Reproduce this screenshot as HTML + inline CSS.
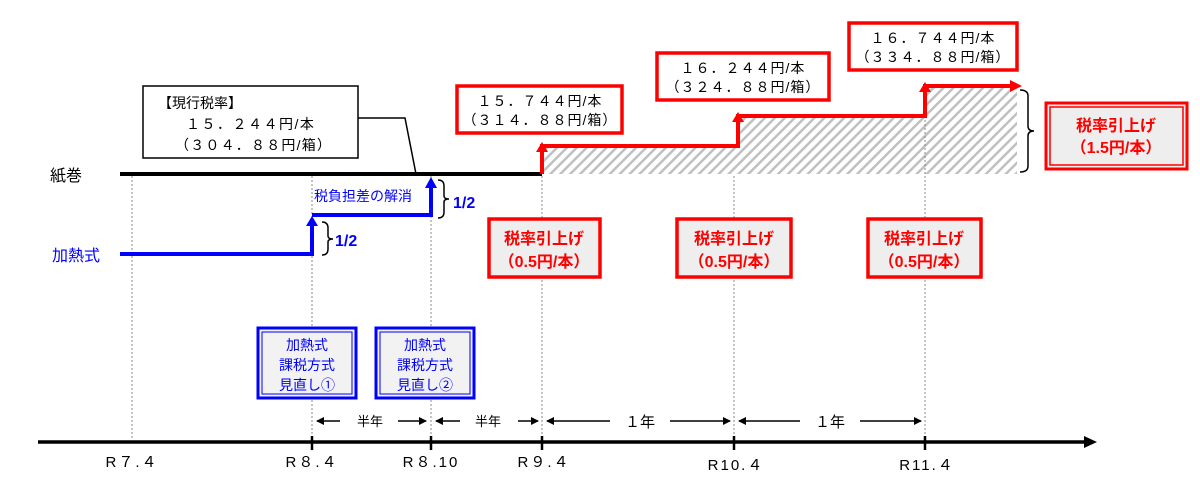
<!DOCTYPE html>
<html><head><meta charset="utf-8"><style>
html,body{margin:0;padding:0;background:#fff;}
svg{display:block;font-family:"Liberation Sans","Noto Sans CJK JP",sans-serif;}
</style></head><body>
<svg width="1200" height="483" viewBox="0 0 1200 483" xmlns="http://www.w3.org/2000/svg">
<defs>
<pattern id="h" width="7" height="7" patternUnits="userSpaceOnUse" patternTransform="rotate(45)">
<rect width="7" height="7" fill="#fff"/><rect width="2.5" height="7" fill="#c0c0c0"/></pattern>
<marker id="ab" markerWidth="8" markerHeight="8" refX="7" refY="4" orient="auto" markerUnits="userSpaceOnUse"><path d="M0,0 L8,4 L0,8z" fill="#000"/></marker>
</defs>
<path d="M542,146 H738 V116 H925 V86 H1017 V174 H542z" fill="url(#h)"/>
<g stroke="#888" stroke-width="1" stroke-dasharray="2,2">
<line x1="132" y1="176" x2="132" y2="440"/><line x1="312" y1="176" x2="312" y2="440"/>
<line x1="431" y1="176" x2="431" y2="440"/><line x1="542" y1="176" x2="542" y2="440"/>
<line x1="734" y1="176" x2="734" y2="440"/><line x1="925" y1="120" x2="925" y2="440"/>
</g>
<line x1="120" y1="174" x2="542" y2="174" stroke="#000" stroke-width="4"/>
<text x="50" y="181" font-size="16" fill="#000">紙巻</text>
<path d="M542,174 V146 H738 V116 H925 V86 H1012" fill="none" stroke="#f00" stroke-width="4"/>
<path d="M536,152 L542,142 L548,152z M732,122 L738,112 L744,122z M919,92 L925,82 L931,92z M1010,80 L1022,86 L1010,92z" fill="#f00"/>
<path d="M1020,90 Q1028,90 1028,96 V126 Q1028,131 1034,131 Q1028,131 1028,136 V166 Q1028,172 1020,172" fill="none" stroke="#000" stroke-width="1.5"/>
<text x="52" y="261" font-size="16" fill="#00f">加熱式</text>
<path d="M120,254 H312 V222 M312,215 H431 V184" fill="none" stroke="#00f" stroke-width="4"/>
<path d="M306,226 L312,216 L318,226z M425,188 L431,177 L437,188z" fill="#00f"/>
<path d="M322,222 Q328,222 328,228 V236 Q328,239 333,239 Q328,239 328,242 V249 Q328,255 322,255" fill="none" stroke="#000" stroke-width="1.5"/>
<text x="335" y="246" font-size="16" font-weight="bold" fill="#00f">1/2</text>
<path d="M438,180 Q444,180 444,186 V196 Q444,199 449,199 Q444,199 444,202 V212 Q444,218 438,218" fill="none" stroke="#000" stroke-width="1.5"/>
<text x="453" y="208" font-size="16" font-weight="bold" fill="#00f">1/2</text>
<text x="314" y="201" font-size="14" fill="#00f">税負担差の解消</text>
<rect x="143" y="86" width="215" height="72" fill="#fff" stroke="#000" stroke-width="1.5"/>
<polyline points="358,118 405,118 416,174" fill="none" stroke="#000" stroke-width="1.5"/>
<text x="158" y="108" font-size="14">【現行税率】</text>
<text x="186" y="129" font-size="14" letter-spacing="1.5">１５．２４４円/本</text>
<text x="175" y="150" font-size="14" letter-spacing="1.2">（３０４．８８円/箱）</text>
<g fill="#fff" stroke="#f00" stroke-width="3.5">
<rect x="457" y="86" width="165" height="47"/><rect x="657" y="53" width="172" height="47"/><rect x="849" y="23" width="168" height="47"/></g>
<g font-size="14" text-anchor="middle" letter-spacing="1">
<text x="540" y="106">１５．７４４円/本</text><text x="540" y="125">（３１４．８８円/箱）</text>
<text x="743" y="73">１６．２４４円/本</text><text x="743" y="92">（３２４．８８円/箱）</text>
<text x="933" y="43">１６．７４４円/本</text><text x="933" y="62">（３３４．８８円/箱）</text></g>
<g fill="#eeeeee" stroke="#f00" stroke-width="3.5">
<rect x="489" y="219" width="111" height="58"/><rect x="677" y="219" width="114" height="58"/><rect x="868" y="219" width="113" height="58"/></g>
<g font-size="16" font-weight="bold" fill="#f00" text-anchor="middle">
<text x="544" y="244">税率引上げ</text><text x="544" y="267">（0.5円/本）</text>
<text x="734" y="244">税率引上げ</text><text x="734" y="267">（0.5円/本）</text>
<text x="924" y="244">税率引上げ</text><text x="924" y="267">（0.5円/本）</text></g>
<rect x="1046" y="103" width="141" height="66" fill="#eee" stroke="#f00" stroke-width="3"/>
<rect x="1050" y="107" width="133" height="58" fill="none" stroke="#f00" stroke-width="1.5"/>
<text x="1116" y="131" font-size="16" font-weight="bold" fill="#f00" text-anchor="middle">税率引上げ</text>
<text x="1116" y="153" font-size="16" font-weight="bold" fill="#f00" text-anchor="middle">（1.5円/本）</text>
<g fill="#f2f2f2" stroke="#00f" stroke-width="3"><rect x="258" y="328" width="98" height="70"/><rect x="376" y="328" width="98" height="70"/></g>
<g fill="none" stroke="#00f" stroke-width="1"><rect x="262" y="332" width="90" height="62"/><rect x="380" y="332" width="90" height="62"/></g>
<g font-size="14" fill="#00f" text-anchor="middle">
<text x="307" y="350">加熱式</text><text x="307" y="370">課税方式</text><text x="307" y="390">見直し①</text>
<text x="425" y="350">加熱式</text><text x="425" y="370">課税方式</text><text x="425" y="390">見直し②</text></g>
<g stroke="#000" stroke-width="1.5" marker-end="url(#ab)">
<line x1="340" y1="421" x2="317" y2="421"/><line x1="398" y1="421" x2="426" y2="421"/>
<line x1="460" y1="421" x2="436" y2="421"/><line x1="518" y1="421" x2="538" y2="421"/>
<line x1="610" y1="421" x2="547" y2="421"/><line x1="670" y1="421" x2="730" y2="421"/>
<line x1="800" y1="421" x2="739" y2="421"/><line x1="860" y1="421" x2="921" y2="421"/></g>
<g font-size="13" text-anchor="middle"><text x="370" y="426">半年</text><text x="488" y="426">半年</text></g>
<g font-size="15" text-anchor="middle"><text x="640" y="427">１年</text><text x="830" y="427">１年</text></g>
<line x1="38" y1="442" x2="1088" y2="442" stroke="#000" stroke-width="3.5"/>
<path d="M1084,436 L1097,442 L1084,448z" fill="#000"/>
<g stroke="#000" stroke-width="2.5"><line x1="312" y1="436" x2="312" y2="450"/><line x1="431" y1="436" x2="431" y2="450"/><line x1="542" y1="436" x2="542" y2="450"/><line x1="734" y1="436" x2="734" y2="450"/><line x1="925" y1="436" x2="925" y2="450"/></g>
<g font-size="15" text-anchor="middle" letter-spacing="2">
<text x="132" y="467">R７.４</text><text x="312" y="467">R８.４</text><text x="431" y="467">R８.10</text>
<text x="544" y="467">R９.４</text><text x="736" y="470">R10.４</text><text x="927" y="470">R11.４</text></g>
</svg>
</body></html>
